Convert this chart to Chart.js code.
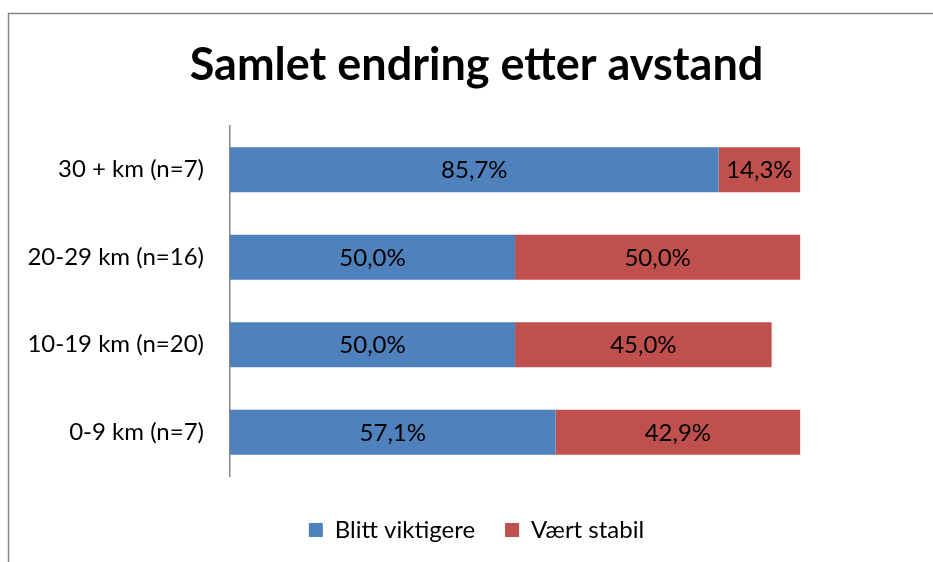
<!DOCTYPE html>
<html>
<head>
<meta charset="utf-8">
<script src="https://cdn.jsdelivr.net/npm/chart.js@4/dist/chart.umd.min.js"></script>
<style>
  html, body { margin: 0; padding: 0; background: #ffffff; }
  #wrap { width: 933px; height: 562px; position: relative; }
</style>
</head>
<body>
<div id="wrap"><canvas id="c" width="933" height="562"></canvas></div>
<script>
const categories = ["30 + km (n=7)", "20-29 km (n=16)", "10-19 km (n=20)", "0-9 km (n=7)"];
const seriesNames = ["Blitt viktigere", "Vært stabil"];
const blittViktigere = [85.7, 50.0, 50.0, 57.1];
const vaertStabil = [14.3, 50.0, 45.0, 42.9];
const titleText = "Samlet endring etter avstand";

const FONT = "Lato, 'Open Sans', sans-serif";
const TXT = 24;

const framePlugin = {
  id: 'frame',
  beforeDraw(chart) {
    const ctx = chart.ctx;
    ctx.save();
    ctx.fillStyle = '#ffffff';
    ctx.fillRect(0, 0, chart.width, chart.height);
    ctx.strokeStyle = '#878787';
    ctx.lineWidth = 1.5;
    ctx.beginPath();
    ctx.moveTo(8.5, chart.height + 2);
    ctx.lineTo(8.5, 13.5);
    ctx.lineTo(chart.width + 2, 13.5);
    ctx.stroke();
    ctx.restore();
  }
};

const labelPlugin = {
  id: 'segLabels',
  afterDatasetsDraw(chart) {
    const ctx = chart.ctx;
    ctx.save();
    ctx.font = TXT + "px " + FONT;
    ctx.fillStyle = '#000000';
    ctx.textAlign = 'center';
    ctx.textBaseline = 'middle';
    chart.data.datasets.forEach((ds, di) => {
      const meta = chart.getDatasetMeta(di);
      meta.data.forEach((bar, i) => {
        const v = ds.data[i];
        const props = bar.getProps(['x', 'y', 'base'], true);
        const cx = (props.x + props.base) / 2;
        const txt = v.toFixed(1).replace('.', ',') + '%';
        ctx.fillText(txt, cx, props.y + 1);
      });
    });
    ctx.restore();
  }
};

new Chart(document.getElementById('c'), {
  type: 'bar',
  data: {
    labels: categories,
    datasets: [
      { label: seriesNames[0], data: blittViktigere, backgroundColor: '#4F81BD', borderWidth: 0 },
      { label: seriesNames[1], data: vaertStabil, backgroundColor: '#C0504D', borderWidth: 0 }
    ]
  },
  options: {
    indexAxis: 'y',
    responsive: false,
    animation: false,
    devicePixelRatio: 1,
    layout: { padding: { left: 20, right: 0, top: 0, bottom: 10 } },
    datasets: { bar: { categoryPercentage: 1.0, barPercentage: 0.515 } },
    scales: {
      x: {
        stacked: true,
        min: 0,
        max: 123.3,
        display: true,
        ticks: { display: false },
        grid: { display: false, drawTicks: false },
        border: { display: false },
        afterFit(scale) { scale.height = 12; }
      },
      y: {
        stacked: true,
        grid: { display: false, drawTicks: false },
        border: { display: true, color: '#868686', width: 1.5 },
        ticks: { color: '#000000', font: { family: FONT, size: TXT }, padding: 26 },
        afterFit(scale) { scale.width = 210; }
      }
    },
    plugins: {
      title: {
        display: true,
        text: titleText,
        color: '#000000',
        font: { family: FONT, size: 45, weight: 'bold' },
        padding: { top: 38, bottom: 34 }
      },
      legend: {
        display: true,
        position: 'bottom',
        labels: {
          color: '#000000',
          font: { family: FONT, size: TXT },
          boxWidth: 14,
          boxHeight: 14,
          padding: 30
        }
      },
      tooltip: { enabled: true }
    }
  },
  plugins: [framePlugin, labelPlugin]
});
</script>
</body>
</html>
